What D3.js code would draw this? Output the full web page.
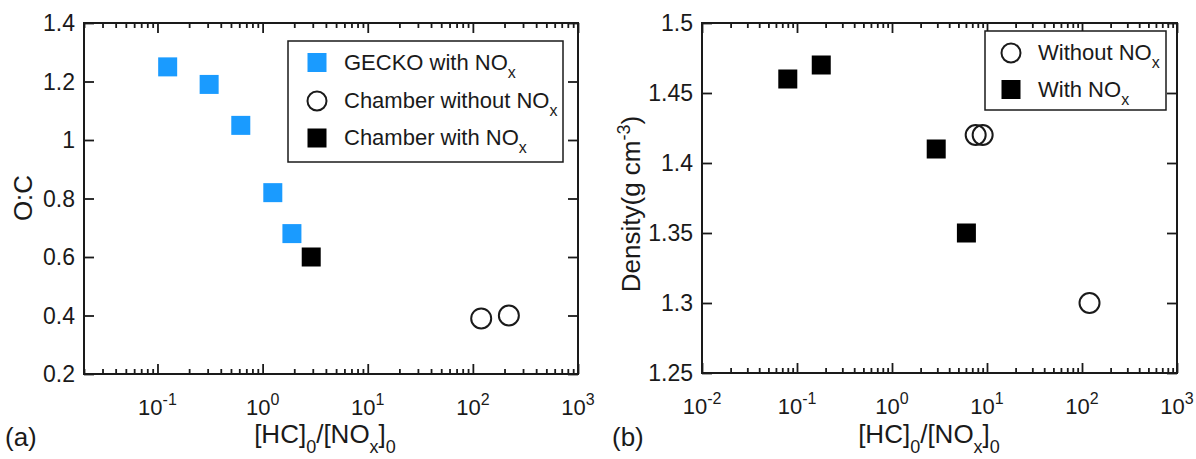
<!DOCTYPE html>
<html>
<head>
<meta charset="utf-8">
<script src="https://cdn.jsdelivr.net/npm/d3@7"></script>
<style>
  html, body { margin: 0; padding: 0; background: #fff; }
  svg { display: block; font-family: "Liberation Sans", Arial, sans-serif; }
</style>
</head>
<body>
<svg id="chart" width="1196" height="459"></svg>
<script>
// ---------- data ----------
// Panel (a): O:C vs [HC]0/[NOx]0
const geckoX = [0.125, 0.31, 0.62, 1.25, 1.9];
const geckoY = [1.25, 1.19, 1.05, 0.82, 0.68];
const chamberNoNOxX = [120, 220];
const chamberNoNOxY = [0.39, 0.40];
const chamberNOxX = [2.9];
const chamberNOxY = [0.60];
// Panel (b): density vs [HC]0/[NOx]0
const withoutNOxX = [7.6, 9.0, 120];
const withoutNOxY = [1.42, 1.42, 1.30];
const withNOxX = [0.08, 0.18, 2.92, 6.07];
const withNOxY = [1.46, 1.47, 1.41, 1.35];
// ticks
const yTicksA = [0.2, 0.4, 0.6, 0.8, 1.0, 1.2, 1.4];
const yTickLabelsA = ["0.2", "0.4", "0.6", "0.8", "1", "1.2", "1.4"];
const xMajorA = [0.1, 1, 10, 100, 1000];
const xExpA = ["-1", "0", "1", "2", "3"];
const yTicksB = [1.25, 1.3, 1.35, 1.4, 1.45, 1.5];
const yTickLabelsB = ["1.25", "1.3", "1.35", "1.4", "1.45", "1.5"];
const xMajorB = [0.01, 0.1, 1, 10, 100, 1000];
const xExpB = ["-2", "-1", "0", "1", "2", "3"];
const legendA = ["GECKO with NO", "Chamber without NO", "Chamber with NO"];
const legendB = ["Without NO", "With NO"];

// ---------- drawing ----------
const svg = d3.select("#chart");
const INK = "#1a1a1a";
const BLUE = "#1a9bff";

const xA = d3.scaleLog().domain([0.02, 1000]).range([84, 578]);
const yA = d3.scaleLinear().domain([0.2, 1.4]).range([374, 23]);
const xB = d3.scaleLog().domain([0.01, 1000]).range([702, 1177]);
const yB = d3.scaleLinear().domain([1.25, 1.5]).range([373, 23]);

function isDecade(v) {
  const l = Math.log10(v);
  return Math.abs(l - Math.round(l)) < 1e-9;
}

function drawAxes(x, y, yTicks, yLabels, xMajor, xExp) {
  const [x0, x1] = x.range();
  const [yb, yt] = y.range();
  const g = svg.append("g");
  const minor = x.ticks().filter(v => !isDecade(v));
  const style = sel => {
    sel.select(".domain").remove();
    sel.selectAll("line").attr("stroke", INK).attr("stroke-width", 1.8);
  };
  g.append("g").attr("transform", `translate(0,${yb})`)
    .call(d3.axisBottom(x).tickValues(minor).tickSize(-5).tickSizeOuter(0).tickFormat("")).call(style);
  g.append("g").attr("transform", `translate(0,${yb})`)
    .call(d3.axisBottom(x).tickValues(xMajor).tickSize(-10).tickSizeOuter(0).tickFormat("")).call(style);
  g.append("g").attr("transform", `translate(0,${yt})`)
    .call(d3.axisTop(x).tickValues(minor).tickSize(-5).tickSizeOuter(0).tickFormat("")).call(style);
  g.append("g").attr("transform", `translate(0,${yt})`)
    .call(d3.axisTop(x).tickValues(xMajor).tickSize(-10).tickSizeOuter(0).tickFormat("")).call(style);
  g.append("g").attr("transform", `translate(${x0},0)`)
    .call(d3.axisLeft(y).tickValues(yTicks).tickSize(-10).tickSizeOuter(0).tickFormat("")).call(style);
  g.append("g").attr("transform", `translate(${x1},0)`)
    .call(d3.axisRight(y).tickValues(yTicks).tickSize(-10).tickSizeOuter(0).tickFormat("")).call(style);
  g.append("rect").attr("x", x0).attr("y", yt).attr("width", x1 - x0).attr("height", yb - yt)
    .attr("fill", "none").attr("stroke", INK).attr("stroke-width", 2);
  g.selectAll(".ylab").data(yTicks).enter().append("text")
    .attr("x", x0 - 9).attr("y", d => y(d)).attr("dy", "0.36em")
    .attr("text-anchor", "end").attr("font-size", 23).attr("fill", INK)
    .text((d, i) => yLabels[i]);
  const xl = g.selectAll(".xlab").data(xMajor).enter().append("text")
    .attr("x", d => x(d)).attr("y", yb + 41)
    .attr("text-anchor", "middle").attr("font-size", 22).attr("fill", INK);
  xl.append("tspan").text("10");
  xl.append("tspan").attr("font-size", 16).attr("dy", -10).text((d, i) => xExp[i]);
  return g;
}

function xTitle(cx) {
  const t = svg.append("text").attr("x", cx).attr("y", 443)
    .attr("text-anchor", "middle").attr("font-size", 26).attr("fill", INK);
  t.append("tspan").text("[HC]");
  t.append("tspan").attr("font-size", 18).attr("dy", 10).text("0");
  t.append("tspan").attr("dy", -10).text("/[NO");
  t.append("tspan").attr("font-size", 18).attr("dy", 10).text("x");
  t.append("tspan").attr("dy", -10).text("]");
  t.append("tspan").attr("font-size", 18).attr("dy", 10).text("0");
}

function legendMarker(g, x, y, kind, color) {
  if (kind === "square") {
    g.append("rect").attr("x", x - 9.5).attr("y", y - 9.5).attr("width", 19).attr("height", 19).attr("fill", color);
  } else {
    g.append("circle").attr("cx", x).attr("cy", y).attr("r", 9.5)
      .attr("fill", "none").attr("stroke", INK).attr("stroke-width", 2);
  }
}

// ----- Panel (a) -----
drawAxes(xA, yA, yTicksA, yTickLabelsA, xMajorA, xExpA);
const pa = svg.append("g");
pa.selectAll(".gecko").data(geckoX.map((v, i) => [v, geckoY[i]])).enter().append("rect")
  .attr("x", d => xA(d[0]) - 9.5).attr("y", d => yA(d[1]) - 9.5)
  .attr("width", 19).attr("height", 19).attr("fill", BLUE);
pa.selectAll(".cn").data(chamberNOxX.map((v, i) => [v, chamberNOxY[i]])).enter().append("rect")
  .attr("x", d => xA(d[0]) - 9.5).attr("y", d => yA(d[1]) - 9.5)
  .attr("width", 19).attr("height", 19).attr("fill", "#000");
pa.selectAll(".co").data(chamberNoNOxX.map((v, i) => [v, chamberNoNOxY[i]])).enter().append("circle")
  .attr("cx", d => xA(d[0])).attr("cy", d => yA(d[1])).attr("r", 10)
  .attr("fill", "none").attr("stroke", INK).attr("stroke-width", 2);

// legend (a)
const la = svg.append("g");
la.append("rect").attr("x", 288).attr("y", 41).attr("width", 275).attr("height", 121)
  .attr("fill", "#fff").attr("stroke", INK).attr("stroke-width", 1.5);
const legAKinds = [["square", BLUE], ["circle", INK], ["square", "#000"]];
const legAY = [62.5, 101, 138];
legendA.forEach((txt, i) => {
  legendMarker(la, 317, legAY[i], legAKinds[i][0], legAKinds[i][1]);
  const t = la.append("text").attr("x", 344).attr("y", legAY[i] + 7).attr("font-size", 22).attr("fill", INK);
  t.append("tspan").text(txt);
  t.append("tspan").attr("font-size", 16).attr("dy", 8).text("x");
});

// titles (a)
svg.append("text").attr("transform", "translate(32,198) rotate(-90)")
  .attr("text-anchor", "middle").attr("font-size", 26).attr("fill", INK).text("O:C");
xTitle(325);
svg.append("text").attr("x", 5).attr("y", 446).attr("font-size", 26).attr("fill", INK).text("(a)");

// ----- Panel (b) -----
drawAxes(xB, yB, yTicksB, yTickLabelsB, xMajorB, xExpB);
const pb = svg.append("g");
pb.selectAll(".wn").data(withNOxX.map((v, i) => [v, withNOxY[i]])).enter().append("rect")
  .attr("x", d => xB(d[0]) - 9.5).attr("y", d => yB(d[1]) - 9.5)
  .attr("width", 19).attr("height", 19).attr("fill", "#000");
pb.selectAll(".won").data(withoutNOxX.map((v, i) => [v, withoutNOxY[i]])).enter().append("circle")
  .attr("cx", d => xB(d[0])).attr("cy", d => yB(d[1])).attr("r", 10)
  .attr("fill", "none").attr("stroke", INK).attr("stroke-width", 2);

// legend (b)
const lb = svg.append("g");
lb.append("rect").attr("x", 985).attr("y", 31).attr("width", 181).attr("height", 79)
  .attr("fill", "#fff").attr("stroke", INK).attr("stroke-width", 1.5);
const legBKinds = [["circle", INK], ["square", "#000"]];
const legBY = [53, 89.5];
legendB.forEach((txt, i) => {
  legendMarker(lb, 1011, legBY[i], legBKinds[i][0], legBKinds[i][1]);
  const t = lb.append("text").attr("x", 1038).attr("y", legBY[i] + 7).attr("font-size", 22).attr("fill", INK);
  t.append("tspan").text(txt);
  t.append("tspan").attr("font-size", 16).attr("dy", 8).text("x");
});

// titles (b)
const dt = svg.append("text").attr("transform", "translate(640,204) rotate(-90)")
  .attr("text-anchor", "middle").attr("font-size", 26).attr("fill", INK);
dt.append("tspan").text("Density(g cm");
dt.append("tspan").attr("font-size", 18).attr("dy", -10).text("-3");
dt.append("tspan").attr("dy", 10).text(")");
xTitle(929);
svg.append("text").attr("x", 612).attr("y", 446).attr("font-size", 26).attr("fill", INK).text("(b)");
</script>
</body>
</html>
